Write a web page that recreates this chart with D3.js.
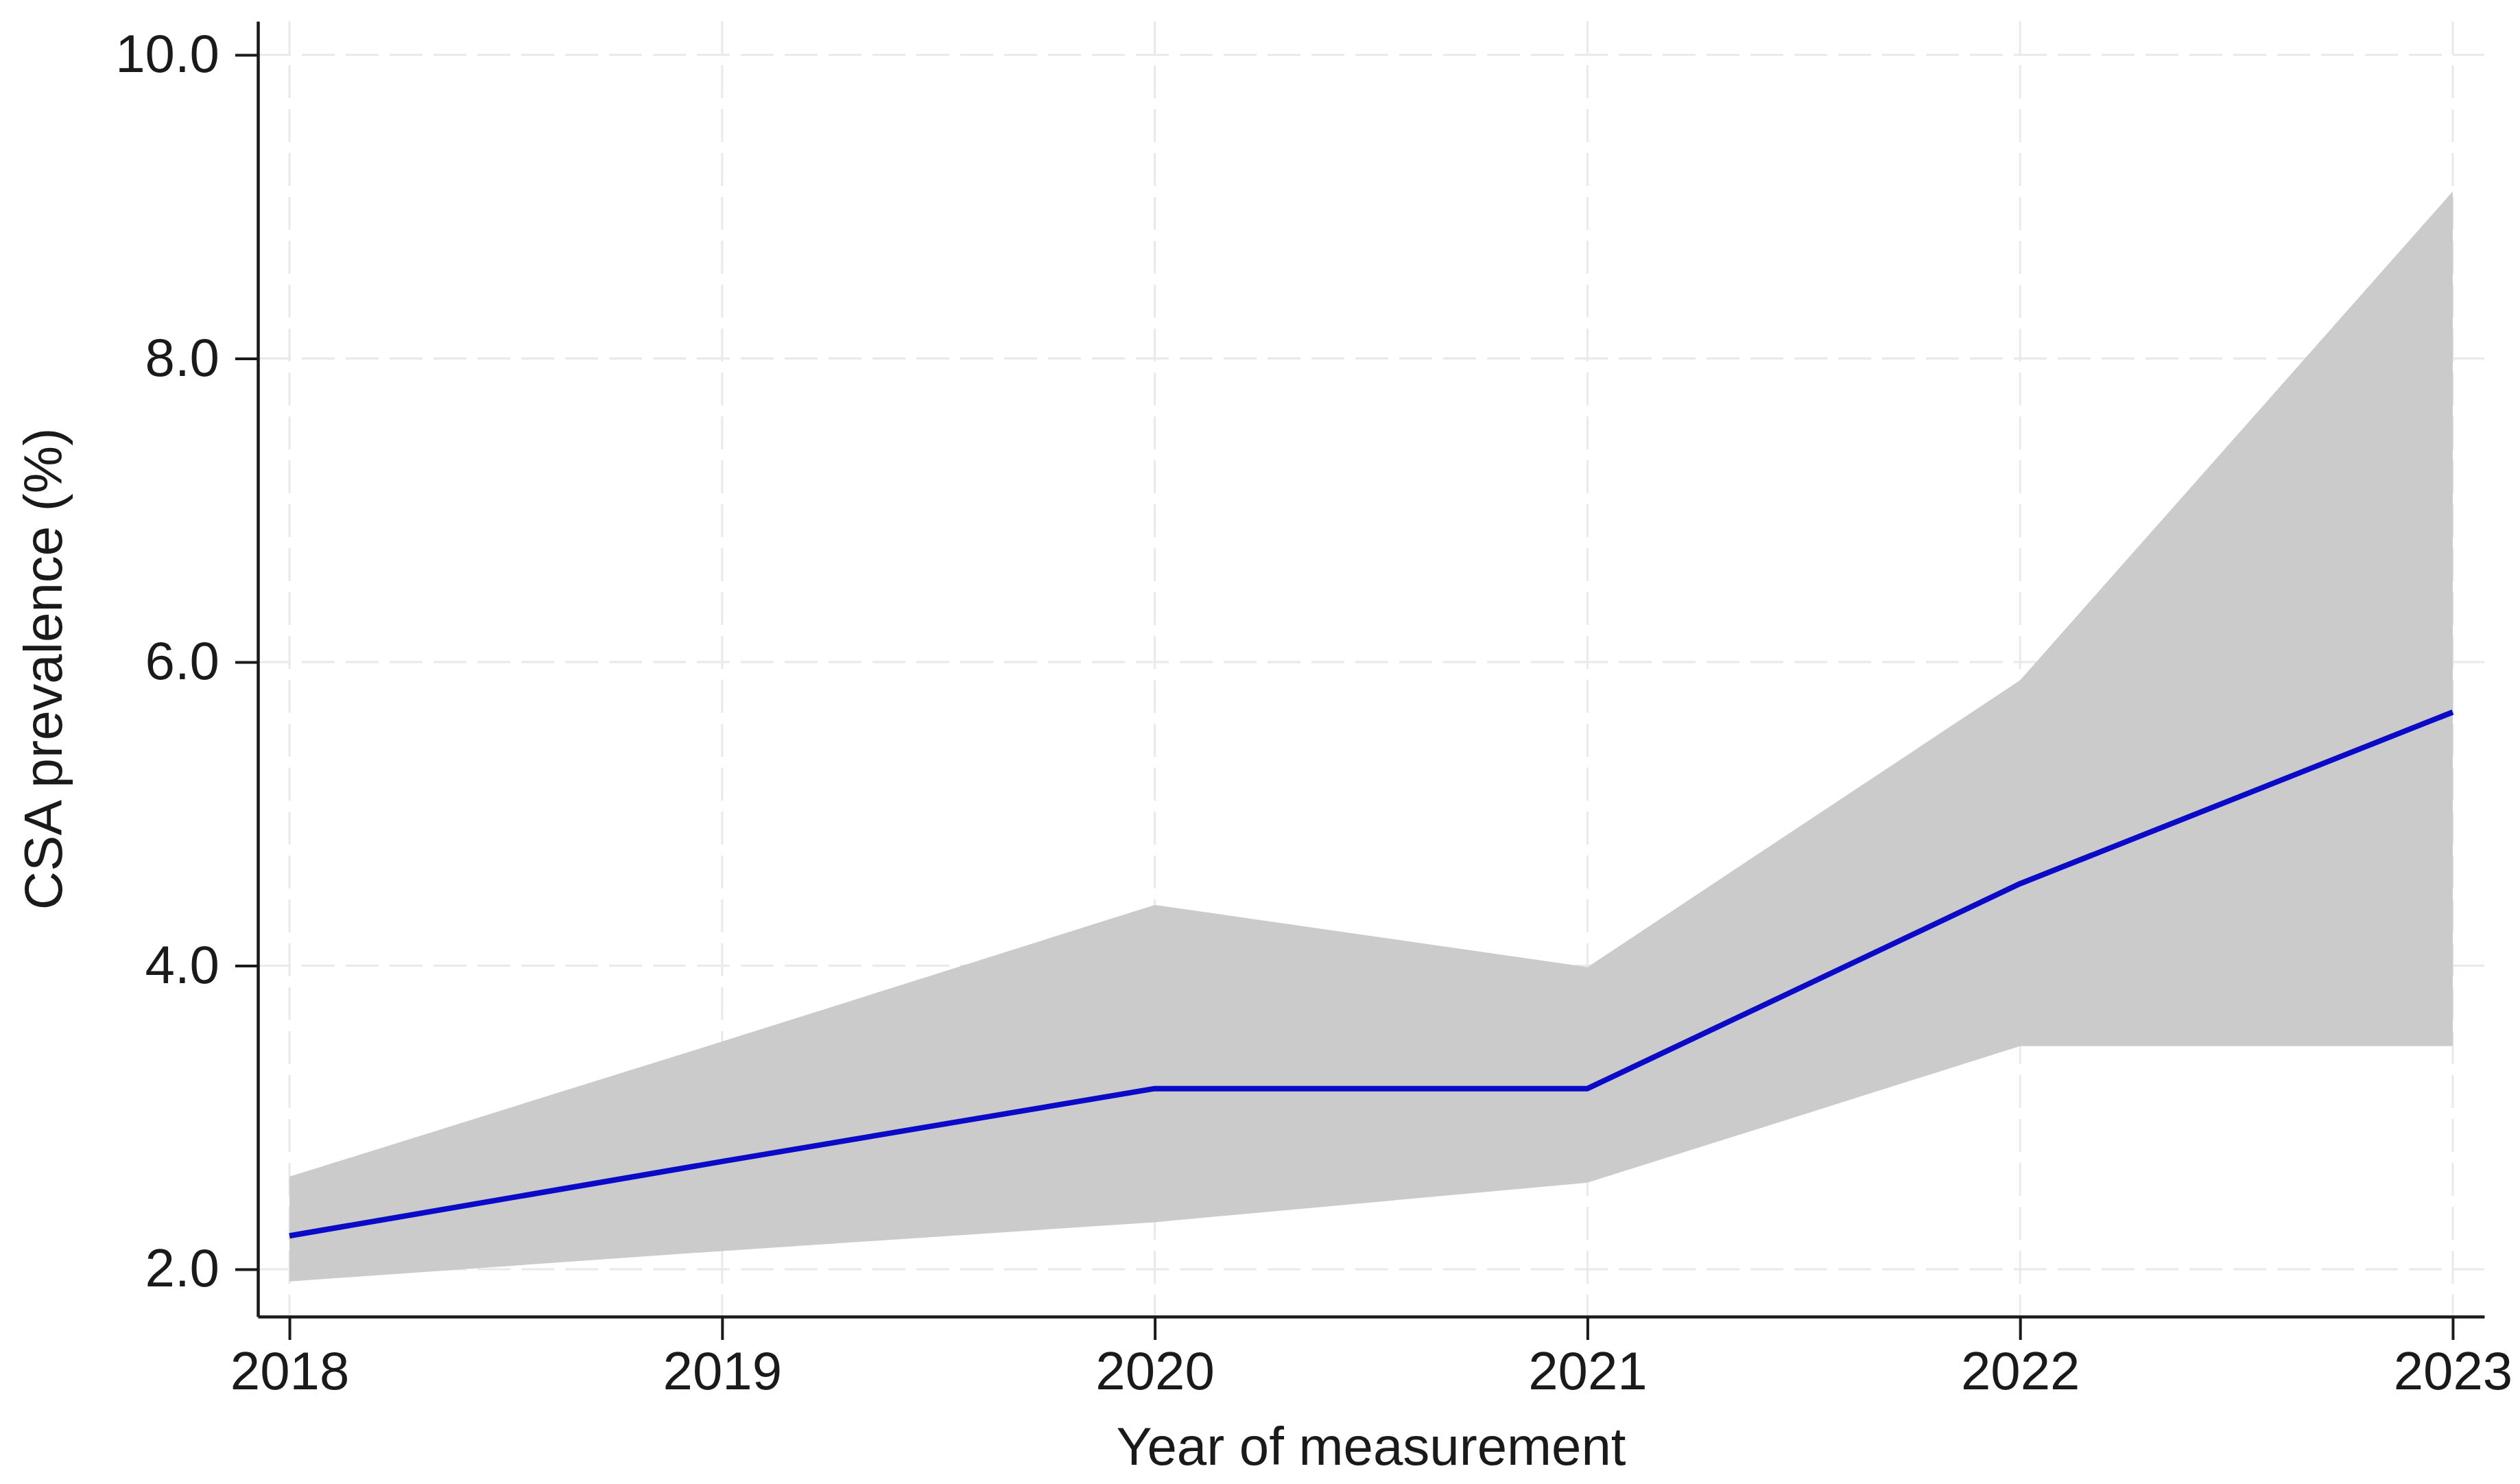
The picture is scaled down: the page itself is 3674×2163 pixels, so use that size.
<!DOCTYPE html>
<html>
<head>
<meta charset="utf-8">
<script src="https://cdn.jsdelivr.net/npm/d3@7"></script>
<style>
  html, body { margin: 0; padding: 0; background: #ffffff; }
  svg { display: block; }
  text { font-family: "Liberation Sans", Arial, "DejaVu Sans", sans-serif; fill: #1a1a1a; }
</style>
</head>
<body>
<svg id="chart" width="3674" height="2163"></svg>
<script>
// ---- data ----
const years = [2018, 2019, 2020, 2021, 2022, 2023];
const prevalence = [2.22, 2.71, 3.19, 3.19, 4.54, 5.67];
const ciUpper = [2.61, 3.50, 4.40, 3.99, 5.88, 9.10];
const ciLower = [1.92, 2.12, 2.31, 2.57, 3.47, 3.47];
const yTicks = [2, 4, 6, 8, 10];
const xTitle = "Year of measurement";
const yTitle = "CSA prevalence (%)";

// ---- layout ----
const plotL = 376, plotR = 3622, plotT = 31, plotB = 1919;
const fs = 78;

const svg = d3.select("#chart");

const x = d3.scaleLinear().domain([2017.927, 2023.073]).range([plotL, plotR]);
const y = d3.scaleLinear().domain([1.688, 10.221]).range([plotB, plotT]);

const rows = years.map((yr, i) => ({ yr, m: prevalence[i], lo: ciLower[i], hi: ciUpper[i] }));

// grid
const grid = svg.append("g").attr("stroke", "#e9e9e9").attr("stroke-width", 3)
  .attr("stroke-dasharray", "48,16").attr("fill", "none");
grid.selectAll("line.h").data(yTicks).join("line").attr("class", "h")
  .attr("x1", plotL).attr("x2", plotR).attr("y1", d => y(d)).attr("y2", d => y(d));
grid.selectAll("line.v").data(years).join("line").attr("class", "v")
  .attr("x1", d => x(d)).attr("x2", d => x(d)).attr("y1", plotT).attr("y2", plotB);

// CI band
const area = d3.area().x(d => x(d.yr)).y0(d => y(d.lo)).y1(d => y(d.hi));
svg.append("path").datum(rows).attr("d", area).attr("fill", "#cbcbcb").attr("stroke", "none");

// mean line
const line = d3.line().x(d => x(d.yr)).y(d => y(d.m));
svg.append("path").datum(rows).attr("d", line).attr("fill", "none")
  .attr("stroke", "#0a0ac8").attr("stroke-width", 8).attr("stroke-linejoin", "round");

// axes
const xAxis = d3.axisBottom(x).tickValues(years).tickFormat(d3.format("d"))
  .tickSize(34).tickSizeOuter(0).tickPadding(17);
const gx = svg.append("g").attr("transform", `translate(0,${plotB})`).call(xAxis);

const yAxis = d3.axisLeft(y).tickValues(yTicks).tickFormat(d3.format(".1f"))
  .tickSize(33).tickSizeOuter(0).tickPadding(23);
const gy = svg.append("g").attr("transform", `translate(${plotL},0)`).call(yAxis);

[gx, gy].forEach(g => {
  g.select(".domain").attr("stroke", "#1a1a1a").attr("stroke-width", 4.5);
  g.selectAll(".tick line").attr("stroke", "#1a1a1a").attr("stroke-width", 4);
  g.selectAll(".tick text").attr("font-size", fs)
    .attr("font-family", '"Liberation Sans", Arial, sans-serif').attr("fill", "#1a1a1a");
});

// titles
svg.append("text").attr("x", (plotL + plotR) / 2).attr("y", 2135)
  .attr("text-anchor", "middle").attr("font-size", fs).text(xTitle);
svg.append("text").attr("transform", `translate(63,${975}) rotate(-90)`)
  .attr("text-anchor", "middle").attr("dy", "0.35em").attr("font-size", fs).text(yTitle);
</script>
</body>
</html>
